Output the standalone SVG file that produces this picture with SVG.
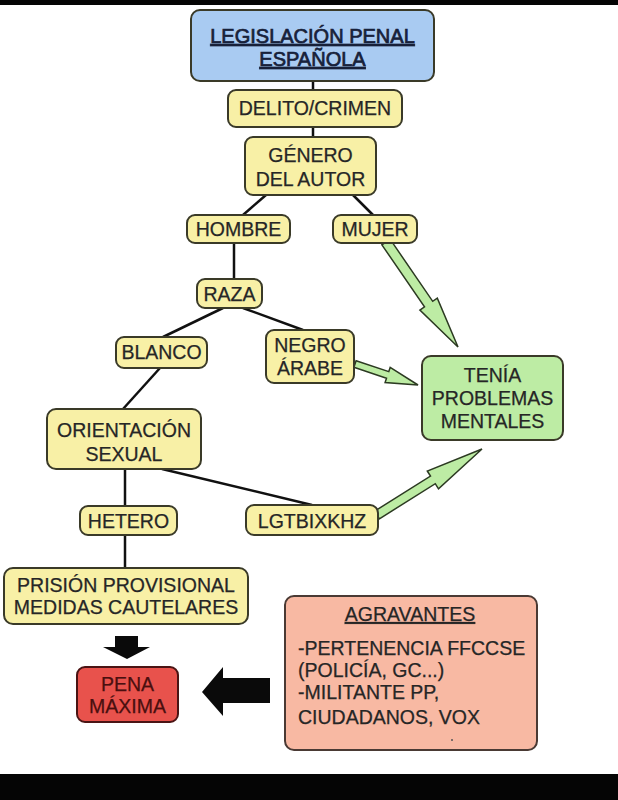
<svg xmlns="http://www.w3.org/2000/svg" width="618" height="800" viewBox="0 0 618 800">
<style>
text{font-family:"Liberation Sans",Arial,sans-serif;font-size:19.5px;fill:#262626;text-anchor:middle;stroke:#262626;stroke-width:0.25}
.t{font-size:20px;fill:#17213a;stroke:#17213a;stroke-width:0.7}
.box{stroke:#3a3a28;stroke-width:2}
.y{fill:#f8f0a6}
.ln{stroke:#111;stroke-width:2.5;fill:none}
.ga{fill:#bdeca4;stroke:#2c3a22;stroke-width:1.5;stroke-linejoin:miter}
.ba{fill:#0a0a0a}
.u{text-decoration:underline}
.r{fill:#4a0f0f;stroke:#4a0f0f}
.l{text-anchor:start}
</style>
<rect x="0" y="0" width="618" height="800" fill="#ffffff"/>
<rect x="0" y="0" width="618" height="5" fill="#050505"/>
<rect x="0" y="774" width="618" height="26" fill="#050505"/>

<g id="connectors">
<line class="ln" x1="313" y1="81" x2="313" y2="90"/>
<line class="ln" x1="313" y1="127" x2="313" y2="137"/>
<line class="ln" x1="266" y1="195" x2="243" y2="215"/>
<line class="ln" x1="353" y1="195" x2="373" y2="215"/>
<line class="ln" x1="234" y1="243" x2="234" y2="279"/>
<line class="ln" x1="223" y1="308" x2="163" y2="337"/>
<line class="ln" x1="243" y1="308" x2="303" y2="330"/>
<line class="ln" x1="160" y1="368" x2="123" y2="409"/>
<line class="ln" x1="125" y1="469" x2="125" y2="506"/>
<line class="ln" x1="162" y1="469" x2="312" y2="505"/>
<line class="ln" x1="125" y1="535" x2="125" y2="568"/>
<polygon class="ga" points="381.9,244.8 424.5,306.9 419.9,310.1 458,347 437.3,298.2 432.7,301.3 390.1,239.2"/>
<polygon class="ga" points="353.9,367.3 386.5,378.2 385.1,382.5 418,385 390.2,367.3 388.8,371.6 356.1,360.7"/>
<polygon class="ga" points="379.4,518.8 435.3,483.7 438.5,488.8 482,449 427.3,471 430.5,476.1 374.6,511.2"/>
<polygon class="ba" points="115,636 138,636 138,647 150,647 127,659 103,647 115,647"/>
<polygon class="ba" points="270,678 223,678 223,667 202,692 223,716 223,703 270,703"/>
</g>

<g id="legislacion">
<rect class="box" x="191" y="10" width="243" height="71" rx="9" fill="#a9cbf2"/>
<text class="t u" x="312.5" y="43">LEGISLACIÓN PENAL</text>
<text class="t u" x="312.5" y="66">ESPAÑOLA</text>
</g>
<g id="delito">
<rect class="box y" x="228" y="90" width="174" height="37" rx="8"/>
<text x="315" y="115">DELITO/CRIMEN</text>
</g>
<g id="genero">
<rect class="box y" x="245" y="137" width="131" height="58" rx="8"/>
<text x="310.5" y="162">GÉNERO</text>
<text x="310.5" y="186">DEL AUTOR</text>
</g>
<g id="hombre">
<rect class="box y" x="187" y="215" width="103" height="28" rx="8"/>
<text x="238.5" y="236">HOMBRE</text>
</g>
<g id="mujer">
<rect class="box y" x="333" y="215" width="84" height="28" rx="8"/>
<text x="375" y="236">MUJER</text>
</g>
<g id="raza">
<rect class="box y" x="197" y="279" width="65" height="29" rx="8"/>
<text x="229.5" y="301">RAZA</text>
</g>
<g id="blanco">
<rect class="box y" x="116" y="337" width="91" height="31" rx="8"/>
<text x="161.5" y="359">BLANCO</text>
</g>
<g id="negro">
<rect class="box y" x="266" y="330" width="88" height="53" rx="8"/>
<text x="310" y="352">NEGRO</text>
<text x="310" y="375">ÁRABE</text>
</g>
<g id="tenia">
<rect class="box" x="422" y="356" width="141" height="84" rx="9" fill="#bdeca4"/>
<text x="492.5" y="382">TENÍA</text>
<text x="492.5" y="405">PROBLEMAS</text>
<text x="492.5" y="428">MENTALES</text>
</g>
<g id="orientacion">
<rect class="box y" x="47" y="409" width="154" height="60" rx="9"/>
<text x="124" y="437">ORIENTACIÓN</text>
<text x="124" y="461">SEXUAL</text>
</g>
<g id="hetero">
<rect class="box y" x="80" y="506" width="97" height="29" rx="8"/>
<text x="128.5" y="528">HETERO</text>
</g>
<g id="lgtbi">
<rect class="box y" x="246" y="505" width="132" height="30" rx="8"/>
<text x="312" y="528">LGTBIXKHZ</text>
</g>
<g id="prision">
<rect class="box y" x="4" y="568" width="244" height="56" rx="9"/>
<text x="126" y="592">PRISIÓN PROVISIONAL</text>
<text x="126" y="614">MEDIDAS CAUTELARES</text>
</g>
<g id="pena">
<rect x="77" y="667" width="101" height="55" rx="8" fill="#e8524c" stroke="#4a1414" stroke-width="2"/>
<text class="r" x="127.5" y="691">PENA</text>
<text class="r" x="127.5" y="713">MÁXIMA</text>
</g>
<g id="agravantes">
<rect x="285" y="596" width="252" height="154" rx="9" fill="#f8b9a3" stroke="#4a3a34" stroke-width="2"/>
<text class="u" x="410" y="621">AGRAVANTES</text>
<text class="l" x="298" y="655">-PERTENENCIA FFCCSE</text>
<text class="l" x="298" y="677">(POLICÍA, GC...)</text>
<text class="l" x="298" y="699">-MILITANTE PP,</text>
<text class="l" x="298" y="724">CIUDADANOS, VOX</text>
<circle cx="452" cy="740" r="1" fill="#555"/>
</g>
</svg>
